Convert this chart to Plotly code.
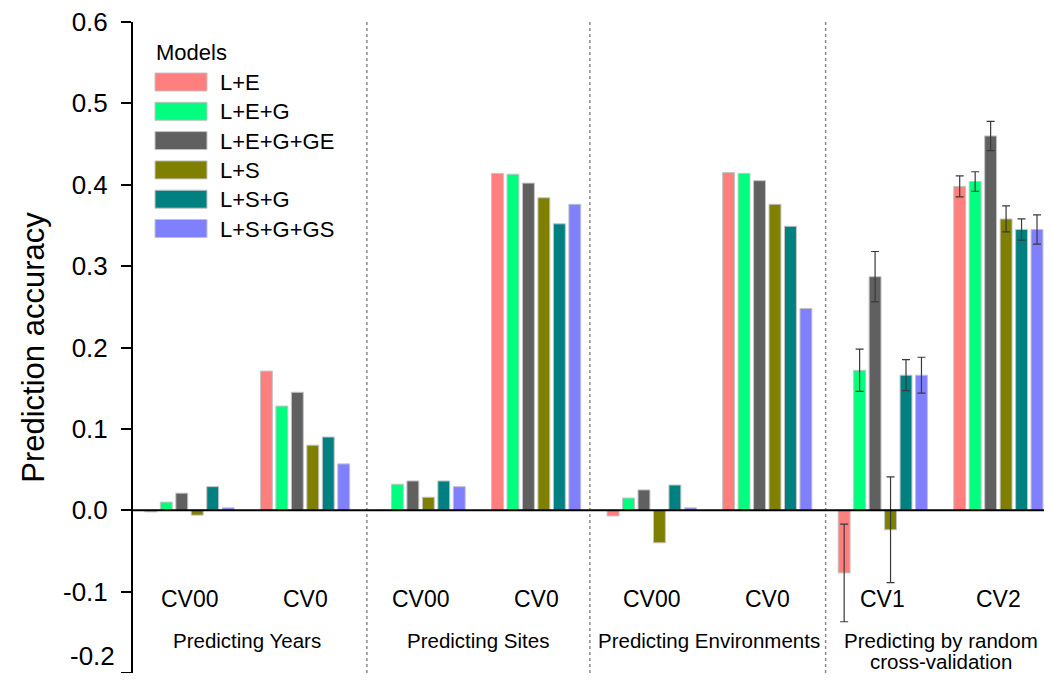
import plotly.graph_objects as go

# ---------------- data ----------------
models = ["L+E", "L+E+G", "L+E+G+GE", "L+S", "L+S+G", "L+S+G+GS"]
colors = ["#FF7F7F", "#00FF7F", "#606060", "#808000", "#008080", "#8080FF"]

sub_labels = ["CV00", "CV0", "CV00", "CV0", "CV00", "CV0", "CV1", "CV2"]
group_labels = ["Predicting Years", "Predicting Sites", "Predicting Environments",
                "Predicting by random<br>cross-validation"]
y_tick_vals = [-0.2, -0.1, 0.0, 0.1, 0.2, 0.3, 0.4, 0.5, 0.6]

# accuracy per subgroup (rows) and model (columns)
years_cv00 = [-0.002, 0.010, 0.021, -0.006, 0.029, 0.003]
years_cv0 = [0.171, 0.128, 0.145, 0.080, 0.090, 0.057]
sites_cv00 = [0.000, 0.032, 0.036, 0.016, 0.036, 0.029]
sites_cv0 = [0.414, 0.413, 0.402, 0.384, 0.352, 0.376]
env_cv00 = [-0.007, 0.015, 0.025, -0.040, 0.031, 0.003]
env_cv0 = [0.415, 0.414, 0.405, 0.376, 0.349, 0.248]
rand_cv1 = [-0.077, 0.172, 0.287, -0.024, 0.166, 0.166]
rand_cv2 = [0.398, 0.404, 0.460, 0.358, 0.345, 0.345]
rand_cv1_err = [0.060, 0.026, 0.031, 0.065, 0.019, 0.022]
rand_cv2_err = [0.013, 0.012, 0.018, 0.016, 0.013, 0.018]

no_err_rows = [years_cv00, years_cv0, sites_cv00, sites_cv0, env_cv00, env_cv0]
err_rows = [rand_cv1, rand_cv2]
err_vals = [rand_cv1_err, rand_cv2_err]

FONT = "Arial, Liberation Sans, sans-serif"

fig = go.Figure()
n_plain = len(no_err_rows)
for k, (m, c) in enumerate(zip(models, colors)):
    fig.add_trace(go.Bar(
        x=list(range(n_plain)),
        y=[row[k] for row in no_err_rows],
        name=m, offsetgroup=str(k), legendgroup=m, showlegend=False,
        marker=dict(color=c, line=dict(color="#C4C4C4", width=1)),
    ))
    fig.add_trace(go.Bar(
        x=list(range(n_plain, n_plain + len(err_rows))),
        y=[row[k] for row in err_rows],
        error_y=dict(type="data", array=[e[k] for e in err_vals],
                     color="#3A3A3A", thickness=1.2, width=4),
        name=m, offsetgroup=str(k), legendgroup=m, showlegend=False,
        marker=dict(color=c, line=dict(color="#C4C4C4", width=1)),
    ))

# page body has an 8px margin on every side: size the figure so the page fits the window
OFF = 8
W, H = 1052 - 2 * OFF, 681 - 2 * OFF
ML, MR, MT, MB = 133 - OFF, 0, 22 - OFF, 0
PW, PH = W - ML - MR, H - MT - MB
Y0, Y1 = y_tick_vals[0], y_tick_vals[-1]


def px_x(p):  # window pixel -> paper
    return (p - OFF - ML) / PW


def px_y(p):
    return 1 - (p - OFF - MT) / PH


def px_val(p):  # window pixel -> y data value (for text placement)
    return Y0 + px_y(p) * (Y1 - Y0)


shapes = []
annotations = []

# group separators
for xs in [1.535, 3.465, 5.505]:
    shapes.append(dict(type="line", xref="x", yref="paper", x0=xs, x1=xs, y0=0, y1=1,
                       line=dict(color="#8A8A8A", width=1.5, dash="dot"), layer="below"))
# zero line above bars
shapes.append(dict(type="line", xref="paper", yref="y", x0=0, x1=1, y0=0, y1=0,
                   line=dict(color="black", width=2), layer="above"))

# subgroup labels
for i, lab in enumerate(sub_labels):
    annotations.append(dict(x=i, y=px_val(599), xref="x", yref="y", text=lab,
                            showarrow=False, yanchor="middle",
                            font=dict(family=FONT, size=23, color="black")))
# group labels (one annotation per line to control line spacing)
for g, lab in enumerate(group_labels):
    for j, line in enumerate(lab.split("<br>")):
        annotations.append(dict(x=2 * g + 0.5, y=px_val(640 + 21 * j), xref="x", yref="y",
                                text=line, showarrow=False, yanchor="middle",
                                font=dict(family=FONT, size=20.5, color="black")))

# y tick labels (hyphen minus); the lowest one is lifted so it stays inside the page
tick_text = [f"{v:.1f}" for v in y_tick_vals]
annotations.append(dict(x=px_x(117), y=Y0, xref="paper", yref="y", text=tick_text[0],
                        showarrow=False, xanchor="right", yanchor="bottom",
                        font=dict(family=FONT, size=26, color="black")))
tick_text[0] = ""

# custom legend
annotations.append(dict(x=px_x(154), y=px_y(52), xref="paper", yref="paper", text="Models",
                        showarrow=False, xanchor="left", yanchor="middle",
                        font=dict(family=FONT, size=22, color="black")))
for k, (m, c) in enumerate(zip(models, colors)):
    top = 73 + k * 29.3
    shapes.append(dict(type="rect", xref="paper", yref="paper",
                       x0=px_x(155), x1=px_x(207), y0=px_y(top + 18), y1=px_y(top),
                       fillcolor=c, line=dict(color="#C4C4C4", width=1)))
    annotations.append(dict(x=px_x(218), y=px_y(top + 9.5), xref="paper", yref="paper",
                            text=m, showarrow=False, xanchor="left", yanchor="middle",
                            font=dict(family=FONT, size=22, color="black")))

fig.update_layout(
    width=W, height=H, autosize=False,
    margin=dict(l=ML, r=MR, t=MT, b=MB, autoexpand=False),
    paper_bgcolor="white", plot_bgcolor="white",
    barmode="group", bargap=0.197, bargroupgap=0.23,
    showlegend=False,
    shapes=shapes, annotations=annotations,
    font=dict(family=FONT, color="black"),
)
fig.update_xaxes(range=[-0.489, 7.395], showticklabels=False, ticks="", showgrid=False,
                 zeroline=False, showline=True, linecolor="#333333", linewidth=2,
                 automargin=False, fixedrange=True)
fig.update_yaxes(range=[Y0, Y1], tickmode="array", tickvals=y_tick_vals, ticktext=tick_text,
                 showgrid=False, zeroline=False, automargin=False,
                 showline=True, linecolor="black", linewidth=2,
                 ticks="outside", ticklen=10, tickwidth=2, tickcolor="black",
                 ticklabelstandoff=8, ticklabeloverflow="allow",
                 tickfont=dict(family=FONT, size=26, color="black"),
                 title=dict(text="Prediction accuracy", standoff=9,
                            font=dict(family=FONT, size=31, color="black")))

fig.write_html("out.html")
